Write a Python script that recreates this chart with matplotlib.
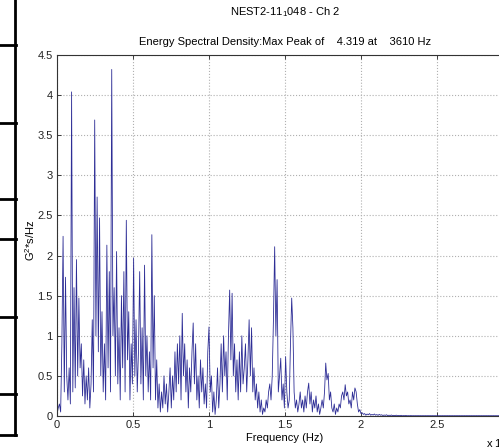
import numpy as np
import matplotlib
matplotlib.use("Agg")
import matplotlib.pyplot as plt
from matplotlib.lines import Line2D

# ---------------- data (G^2*s/Hz, frequency step 0.008 x 10^4 Hz) ----------------
freq_step = 0.008
psd_0_02 = [0.02, 0.10, 0.15, 0.05, 0.90, 2.24, 0.30, 1.73, 0.50, 0.20, 0.60, 0.15, 4.04,
            0.30, 1.60, 0.35, 1.95, 0.50, 1.47, 0.60, 0.90, 0.25, 0.70, 0.15, 0.50]
psd_02_04 = [0.20, 0.60, 0.10, 0.40, 1.20, 0.30, 3.69, 1.00, 2.73, 0.80, 2.47, 0.50, 1.30,
             0.30, 0.90, 0.20, 2.13, 0.60, 1.80, 0.30, 4.32, 1.00, 1.60, 0.50, 2.05]
psd_04_06 = [0.40, 1.10, 0.20, 1.50, 0.60, 1.80, 0.30, 2.44, 0.70, 1.30, 0.20, 0.90, 0.40,
             1.97, 0.50, 1.20, 0.30, 0.80, 1.80, 0.40, 1.10, 0.20, 1.88, 0.50, 1.00]
psd_06_08 = [0.30, 0.80, 0.20, 2.26, 0.60, 1.50, 0.20, 0.70, 0.10, 0.40, 0.05, 0.30, 0.10,
             0.50, 0.15, 0.40, 0.05, 0.30, 0.60, 0.10, 0.50, 0.20, 0.80, 0.30, 0.90]
psd_08_10 = [0.40, 1.00, 0.20, 1.28, 0.50, 0.90, 0.30, 0.70, 0.10, 0.60, 0.30, 0.80, 1.16,
             0.40, 0.90, 0.20, 0.50, 0.10, 0.70, 0.30, 0.60, 0.15, 0.40, 0.10, 0.80]
psd_10_12 = [1.11, 0.30, 0.50, 0.05, 0.30, 0.02, 0.20, 0.60, 0.10, 0.40, 0.90, 0.30, 1.00,
             0.50, 0.80, 0.20, 1.00, 1.57, 0.70, 1.53, 0.50, 0.90, 0.30, 0.70, 0.20]
psd_12_14 = [0.80, 0.30, 1.00, 0.40, 0.60, 0.90, 0.30, 0.70, 1.20, 0.50, 1.10, 0.30, 0.60,
             0.20, 0.40, 0.10, 0.30, 0.05, 0.20, 0.02, 0.10, 0.05, 0.20, 0.10, 0.30]
psd_14_16 = [0.40, 0.20, 0.50, 1.20, 2.11, 1.00, 1.70, 0.30, 0.50, 0.72, 0.20, 0.40, 0.10,
             0.74, 0.30, 0.10, 0.20, 0.90, 1.47, 1.10, 0.30, 0.10, 0.20, 0.05, 0.15]
psd_16_18 = [0.30, 0.10, 0.20, 0.05, 0.25, 0.10, 0.30, 0.41, 0.15, 0.30, 0.05, 0.20, 0.10,
             0.25, 0.05, 0.15, 0.02, 0.10, 0.20, 0.10, 0.30, 0.66, 0.45, 0.53, 0.20]
psd_18_20 = [0.30, 0.10, 0.05, 0.15, 0.02, 0.10, 0.05, 0.15, 0.10, 0.25, 0.30, 0.20, 0.39,
             0.25, 0.30, 0.15, 0.20, 0.10, 0.30, 0.20, 0.35, 0.30, 0.15, 0.05, 0.08, 0.03]
psd_tail = [0.04, 0.02, 0.03, 0.01, 0.025, 0.015, 0.03, 0.01, 0.02, 0.012, 0.025, 0.01,
            0.018, 0.008, 0.02, 0.01, 0.015, 0.006, 0.012, 0.008, 0.015, 0.005, 0.01, 0.006,
            0.012, 0.004, 0.008, 0.005, 0.01, 0.004, 0.006, 0.004, 0.008, 0.003, 0.005, 0.004,
            0.006, 0.003, 0.004, 0.003, 0.005, 0.003, 0.004, 0.003, 0.004, 0.003, 0.004, 0.003,
            0.004, 0.003, 0.004, 0.003, 0.004, 0.003, 0.004, 0.003, 0.004, 0.003, 0.004, 0.003,
            0.004, 0.003, 0.004, 0.003, 0.004, 0.003, 0.004, 0.003, 0.004, 0.003, 0.004, 0.003,
            0.004, 0.003, 0.004, 0.003, 0.004, 0.003, 0.004, 0.003, 0.004, 0.003, 0.004, 0.003,
            0.004, 0.003, 0.004, 0.003, 0.004, 0.003, 0.004, 0.003, 0.004, 0.003, 0.004, 0.003,
            0.004, 0.003, 0.004, 0.003, 0.004, 0.003, 0.004, 0.003, 0.004, 0.003, 0.004, 0.003,
            0.004, 0.003, 0.004, 0.003, 0.004, 0.003, 0.004, 0.003, 0.004, 0.003, 0.004, 0.003,
            0.004, 0.003, 0.004, 0.003, 0.004, 0.003, 0.004, 0.003, 0.004, 0.003, 0.004, 0.003,
            0.004, 0.003, 0.004, 0.003, 0.004, 0.003, 0.004, 0.003, 0.004, 0.003, 0.004, 0.003]

x_ticks = [0, 0.5, 1, 1.5, 2, 2.5]
x_ticklabels = ["0", "0.5", "1", "1.5", "2", "2.5"]
y_ticks = [0, 0.5, 1, 1.5, 2, 2.5, 3, 3.5, 4, 4.5]
y_ticklabels = ["0", "0.5", "1", "1.5", "2", "2.5", "3", "3.5", "4", "4.5"]

title_main = "NEST2-11$_1$048 - Ch 2"
title_sub = "Energy Spectral Density:Max Peak of    4.319 at    3610 Hz"
xlabel = "Frequency (Hz)"
ylabel = "G$^2$*s/Hz"
offset_label = "x 10$^4$"

psd = (psd_0_02 + psd_02_04 + psd_04_06 + psd_06_08 + psd_08_10 + psd_10_12 +
       psd_12_14 + psd_14_16 + psd_16_18 + psd_18_20 + psd_tail)
freq = np.arange(len(psd)) * freq_step

# ---------------- figure ----------------
plt.rcParams['font.family'] = ['Liberation Sans', 'DejaVu Sans']
plt.rcParams['mathtext.fontset'] = 'custom'
plt.rcParams['mathtext.rm'] = 'Liberation Sans'
plt.rcParams['mathtext.it'] = 'Liberation Sans'

W, H = 499, 448
fig = plt.figure(figsize=(W / 100, H / 100), dpi=100)
fig.patch.set_facecolor('white')

ax_l, ax_r, ax_t, ax_b = 57, 513, 55, 416
ax = fig.add_axes([ax_l / W, 1 - ax_b / H, (ax_r - ax_l) / W, (ax_b - ax_t) / H])

ax.plot(freq, psd, color='#2e2e96', lw=0.6)
ax.set_xlim(0, 3)
ax.set_ylim(0, 4.5)
ax.set_xticks(x_ticks)
ax.set_xticklabels(x_ticklabels)
ax.set_yticks(y_ticks)
ax.set_yticklabels(y_ticklabels)
ax.tick_params(direction='in', length=3, width=0.6, labelsize=8, colors='#222222',
               top=True, right=True, pad=3)
ax.grid(True, linestyle=':', color='#b0b0b0', linewidth=0.8)
for s in ax.spines.values():
    s.set_color('#333333')
    s.set_linewidth(0.8)

ax.set_xlabel(xlabel, fontsize=8, labelpad=2)

cx = (ax_l + ax_r) / 2 / W
fig.text(30 / W, 1 - 240 / H, ylabel, ha='center', va='center', rotation=90, fontsize=8)
fig.text(cx, 1 - 12 / H, title_main, ha='center', va='center', fontsize=8)
fig.text(cx, 1 - 42 / H, title_sub, ha='center', va='center', fontsize=8)
fig.text(486 / W, 1 - 443 / H, offset_label, ha='left', va='center', fontsize=8)

# left-edge table fragment
lw_tab = 2.0
fig.add_artist(Line2D([15 / W, 15 / W], [1.0, 1 - 435 / H], transform=fig.transFigure,
                      color='black', lw=lw_tab))
for yy in [45, 123, 199, 239, 317, 394, 435]:
    fig.add_artist(Line2D([0, 16 / W], [1 - yy / H, 1 - yy / H], transform=fig.transFigure,
                          color='black', lw=lw_tab))

fig.savefig("out.png", dpi=100, facecolor='white')
